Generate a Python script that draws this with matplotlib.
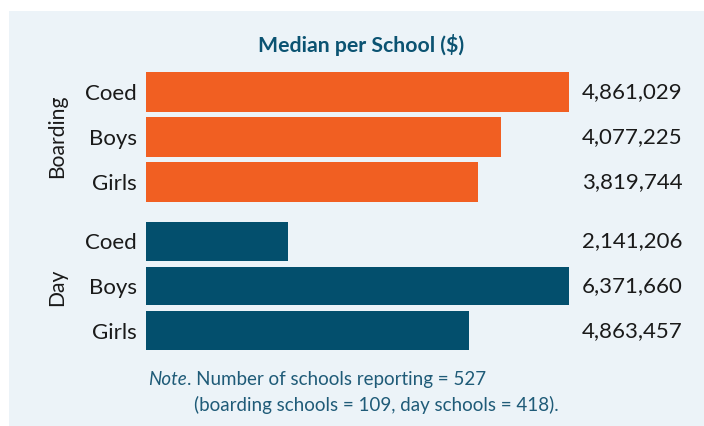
import matplotlib.pyplot as plt
from matplotlib.patches import Rectangle

plt.rcParams['font.family'] = ['Lato', 'DejaVu Sans']

# median spending per school, in dollars
categories = ['Coed', 'Boys', 'Girls']
boarding_vals = [4861029, 4077225, 3819744]
day_vals = [2141206, 6371660, 4863457]
group_names = ['Boarding', 'Day']

ORANGE = '#F15F22'
TEAL = '#034F6D'
PANEL = '#ECF3F8'
INK = '#1A1A1A'

W, H = 704, 426
fig = plt.figure(figsize=(W / 100, H / 100), dpi=100)
fig.patch.set_facecolor('white')

# light panel behind everything
fig.patches.append(Rectangle((9 / W, 0), 1, 1 - 11 / H, transform=fig.transFigure,
                             facecolor=PANEL, edgecolor='none', zorder=-5))

def px_axes(left, top, right, bottom):
    return fig.add_axes([left / W, 1 - bottom / H, (right - left) / W, (bottom - top) / H])

def draw_group(ax, vals, color, name, label_y):
    ax.barh(range(len(vals)), vals, height=0.87, color=color)
    ax.set_xlim(0, max(vals))  # each group scaled to its own max
    ax.set_ylim(len(vals) - 0.5, -0.5)
    ax.set_yticks(range(len(vals)))
    ax.set_yticklabels(categories)
    ax.tick_params(axis='y', length=0, pad=6.5, labelsize=16, labelcolor=INK)
    ax.set_xticks([])
    for s in ax.spines.values():
        s.set_visible(False)
    ax.patch.set_visible(False)
    for i, v in enumerate(vals):
        ax.annotate(f'{v:,}', xy=(1, i), xycoords=ax.get_yaxis_transform(),
                    xytext=(9.5, 0), textcoords='offset points',
                    ha='left', va='center', fontsize=16, color=INK)
    fig.text(57 / W, 1 - label_y / H, name, rotation=90, ha='center', va='center',
             fontsize=15.2, color=INK)

ax1 = px_axes(146, 69.5, 569, 204.5)
draw_group(ax1, boarding_vals, ORANGE, group_names[0], 136)

ax2 = px_axes(146, 219, 569, 353)
draw_group(ax2, day_vals, TEAL, group_names[1], 287)

fig.text(361 / W, 1 - 52 / H, 'Median per School ($)', ha='center', va='baseline',
         fontsize=15.3, fontweight='bold', color='#0B5372')

# note: italic "Note" followed by regular text on the same baseline
note_color = '#1F5B78'
n1 = fig.text(148 / W, 1 - 385 / H, 'Note', ha='left', va='baseline',
              fontsize=13.5, style='italic', color=note_color)
ax1.annotate('. Number of schools reporting = 527', xy=(1, 0), xycoords=n1,
             ha='left', va='bottom', fontsize=13.5, color=note_color,
             annotation_clip=False)
fig.text(194 / W, 1 - 411 / H, '(boarding schools = 109, day schools = 418).',
         ha='left', va='baseline', fontsize=13.5, color=note_color)

fig.savefig('out.png', dpi=100, facecolor=fig.get_facecolor())
